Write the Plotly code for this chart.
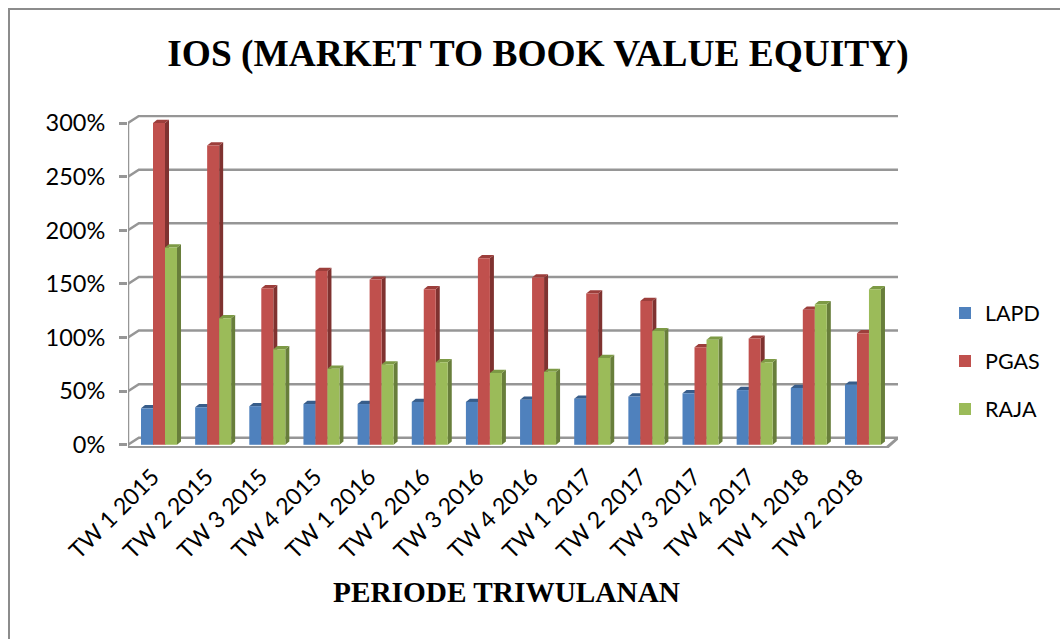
import plotly.graph_objects as go

categories = ['TW 1 2015', 'TW 2 2015', 'TW 3 2015', 'TW 4 2015', 'TW 1 2016', 'TW 2 2016', 'TW 3 2016',
              'TW 4 2016', 'TW 1 2017', 'TW 2 2017', 'TW 3 2017', 'TW 4 2017', 'TW 1 2018', 'TW 2 2018']
lapd = [34, 35, 36, 38, 38, 40, 40, 42, 43, 45, 48, 51, 53, 56]
pgas = [300, 279, 146, 162, 154, 145, 174, 156, 141, 134, 91, 99, 126, 104]
raja = [184, 118, 89, 71, 75, 77, 67, 68, 81, 106, 98, 77, 131, 145]
y_ticks = [0, 50, 100, 150, 200, 250, 300]
y_labels = ['0%', '50%', '100%', '150%', '200%', '250%', '300%']

series = [('LAPD', lapd, '#4F81BD', '#385D8A', '#2F4F79'),
          ('PGAS', pgas, '#C0504D', '#9C3E3B', '#7F3230'),
          ('RAJA', raja, '#9BBB59', '#7D9A45', '#687E3B')]

X_RANGE = [-0.5725, 13.647]
Y_RANGE = [-3.0, 307.5]
BAR_W = 0.2216
DEPTH_X, DEPTH_Y = 0.074, 3.0      # bar depth, data units
WALL_X, WALL_Y = 0.2, 6.5          # wall depth, data units
FRONT_L, FRONT_R = -0.5725, 13.444
GRID = '#969696'
Y_DOMAIN = [(639 - 448) / 639, (639 - 115) / 639]

fig = go.Figure()

# back wall lines with the little step to the front ticks
gx, gy = [], []
for t in y_ticks:
    gx += [FRONT_L, FRONT_L + WALL_X, X_RANGE[1], None]
    gy += [t, t + WALL_Y, t + WALL_Y, None]
fig.add_trace(go.Scatter(x=gx, y=gy, mode='lines', line=dict(color=GRID, width=2.5), cliponaxis=False,
                         showlegend=False, hoverinfo='skip'))

# left edge stops at the top tick, floor front edge runs on to the back wall
fig.add_trace(go.Scatter(x=[FRONT_L, FRONT_L], y=[y_ticks[-1], -2.5], mode='lines', line=dict(color=GRID, width=2.5),
                         cliponaxis=False, showlegend=False, hoverinfo='skip'))
fig.add_trace(go.Scatter(x=[FRONT_L, FRONT_R, X_RANGE[1]], y=[-2.5, -2.5, WALL_Y], mode='lines',
                         line=dict(color=GRID, width=3), cliponaxis=False, showlegend=False, hoverinfo='skip'))

# sides and caps go under the front faces
for k, (name, vals, col, cap, side) in enumerate(series):
    off = (k - 1) * BAR_W
    for i, v in enumerate(vals):
        l, r = i + off - BAR_W / 2, i + off + BAR_W / 2
        fig.add_trace(go.Scatter(x=[r, r + DEPTH_X, r + DEPTH_X, r, r], y=[0, DEPTH_Y, v + DEPTH_Y, v, 0], mode='lines',
                                 fill='toself', fillcolor=side, line=dict(width=0), showlegend=False, hoverinfo='skip'))
        fig.add_trace(go.Scatter(x=[l, r, r + DEPTH_X, l + DEPTH_X, l], y=[v, v, v + DEPTH_Y, v + DEPTH_Y, v], mode='lines',
                                 fill='toself', fillcolor=cap, line=dict(width=0), showlegend=False, hoverinfo='skip'))

# front faces on an overlay axis so they stay on top
for k, (name, vals, col, cap, side) in enumerate(series):
    fig.add_trace(go.Bar(x=list(range(len(categories))), y=vals, name=name, marker=dict(color=col, line=dict(width=0)),
                         width=BAR_W, offset=(k - 1.5) * BAR_W, xaxis='x2', yaxis='y2', legendgroup=name))

fig.update_layout(
    width=1060, height=639, autosize=False,
    paper_bgcolor='white', plot_bgcolor='white',
    margin=dict(l=0, r=0, t=0, b=0),
    font=dict(family='Lato', color='black'),
    showlegend=True,
    legend=dict(x=945 / 1060, xanchor='left', y=1 - 361 / 639, yanchor='middle', font=dict(size=21.5), tracegroupgap=17,
                bgcolor='rgba(0,0,0,0)', itemclick=False),
    xaxis=dict(domain=[128 / 1060, 898 / 1060], range=X_RANGE, showgrid=False, zeroline=False, showline=False, automargin=False,
               tickmode='array', tickvals=[i - 0.12 for i in range(len(categories))], ticktext=categories, tickangle=-45,
               tickfont=dict(family='Lato', size=23), ticks='', ticklabelstandoff=10, anchor='y'),
    yaxis=dict(domain=Y_DOMAIN, range=Y_RANGE, showgrid=False, zeroline=False, showline=False, automargin=False,
               tickmode='array', tickvals=y_ticks, ticktext=y_labels, ticks='outside',
               ticklen=8, tickcolor=GRID, tickwidth=2.5, tickfont=dict(family='Lato', size=23.5),
               ticklabelstandoff=9, anchor='x'),
    xaxis2=dict(domain=[128 / 1060, 898 / 1060], range=X_RANGE, overlaying='x', visible=False, anchor='y2'),
    yaxis2=dict(domain=Y_DOMAIN, range=Y_RANGE, overlaying='y', visible=False, anchor='x2'),
    title=dict(text='<b>IOS (MARKET TO BOOK VALUE EQUITY)</b>', x=538 / 1060, xanchor='center', y=1 - 53 / 639, yanchor='middle',
               font=dict(family='Liberation Serif', size=37.4, color='black')),
    annotations=[dict(text='<b>PERIODE TRIWULANAN</b>', xref='paper', yref='paper', x=506.5 / 1060, y=1 - 592 / 639,
                      xanchor='center', yanchor='middle', showarrow=False,
                      font=dict(family='Liberation Serif', size=29.3, color='black'))],
    shapes=[dict(type='rect', xref='paper', yref='paper', x0=9 / 1060, x1=1.01, y0=-0.01, y1=1 - 9 / 639,
                 line=dict(color='#8c8c8c', width=2))],
)

fig.write_html('out.html', config=dict(displayModeBar=False),
               post_script="document.body.style.margin='0';document.body.style.overflow='hidden';")
